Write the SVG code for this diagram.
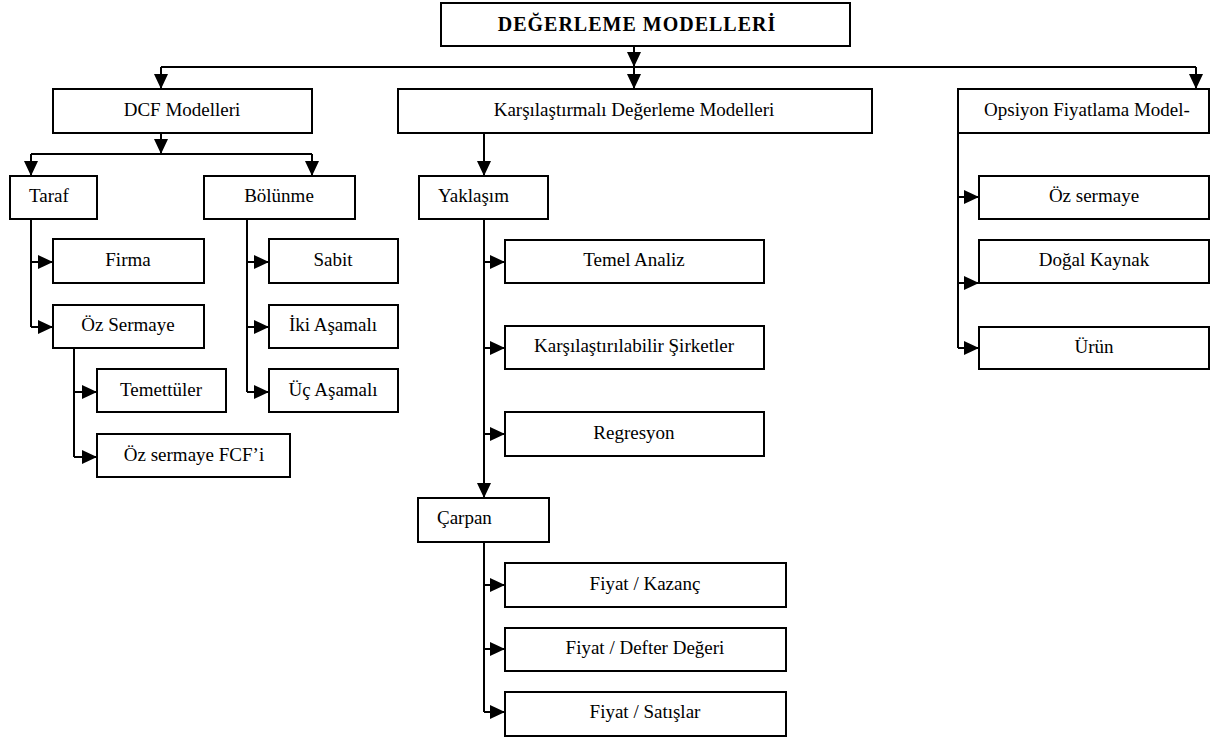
<svg xmlns="http://www.w3.org/2000/svg" width="1218" height="740" viewBox="0 0 1218 740">
<style>
.box{fill:#fff;stroke:#000;stroke-width:2}
.t{font-size:19px;fill:#000;text-anchor:middle}
.l{text-anchor:start}
.title{font-weight:bold;font-size:20px;letter-spacing:1px}
.c{fill:none;stroke:#000;stroke-width:2}
.a{fill:none;stroke:#000;stroke-width:2;marker-end:url(#ah)}
</style>
<defs>
<marker id="ah" markerUnits="userSpaceOnUse" markerWidth="16" markerHeight="15" refX="15" refY="7" orient="auto">
<path d="M0,0 L15,7 L0,14 z" fill="#000"/>
</marker>
</defs>
<rect width="1218" height="740" fill="#fff"/>
<g id="connectors">
<path class="a" d="M634,46 V67"/>
<path class="c" d="M161,67 H1196"/>
<path class="a" d="M161,67 V89"/>
<path class="a" d="M634,67 V89"/>
<path class="a" d="M1196,67 V89"/>
<path class="a" d="M161,133 V154"/>
<path class="c" d="M31,154 H312"/>
<path class="a" d="M31,154 V176"/>
<path class="a" d="M312,154 V176"/>
<path class="c" d="M31,219 V327"/>
<path class="a" d="M31,262 H53"/>
<path class="a" d="M31,327 H53"/>
<path class="c" d="M74,348 V457"/>
<path class="a" d="M74,392 H97"/>
<path class="a" d="M74,457 H97"/>
<path class="c" d="M247,219 V392"/>
<path class="a" d="M247,262 H269"/>
<path class="a" d="M247,327 H269"/>
<path class="a" d="M247,392 H269"/>
<path class="a" d="M484,133 V176"/>
<path class="a" d="M484,219 V498"/>
<path class="a" d="M484,262 H505"/>
<path class="a" d="M484,348 H505"/>
<path class="a" d="M484,434 H505"/>
<path class="c" d="M484,542 V712"/>
<path class="a" d="M484,585 H505"/>
<path class="a" d="M484,649 H505"/>
<path class="a" d="M484,712 H505"/>
<path class="c" d="M958,133 V348"/>
<path class="a" d="M958,197 H979"/>
<path class="a" d="M958,283 H979"/>
<path class="a" d="M958,348 H979"/>
</g>
<g id="nodes" font-family="Liberation Serif, Times New Roman, DejaVu Serif, serif">
<g id="n-root"><rect class="box" x="441" y="3" width="409" height="43"/><text class="t title" x="637" y="31">DEĞERLEME MODELLERİ</text></g>
<g id="n-dcf"><rect class="box" x="53" y="89" width="259" height="44"/><text class="t" x="182" y="116">DCF Modelleri</text></g>
<g id="n-karsi"><rect class="box" x="398" y="89" width="474" height="44"/><text class="t" x="634" y="116">Karşılaştırmalı Değerleme Modelleri</text></g>
<g id="n-opsiyon"><rect class="box" x="958" y="89" width="251" height="44"/><text class="t" x="1087" y="116">Opsiyon Fiyatlama Model-</text></g>
<g id="n-taraf"><rect class="box" x="10" y="176" width="87" height="43"/><text class="t l" x="29" y="202">Taraf</text></g>
<g id="n-bolunme"><rect class="box" x="204" y="176" width="151" height="43"/><text class="t" x="279" y="202">Bölünme</text></g>
<g id="n-firma"><rect class="box" x="53" y="239" width="151" height="44"/><text class="t" x="128" y="266">Firma</text></g>
<g id="n-ozsermaye"><rect class="box" x="53" y="305" width="151" height="43"/><text class="t" x="128" y="331">Öz Sermaye</text></g>
<g id="n-temettu"><rect class="box" x="97" y="369" width="129" height="43"/><text class="t" x="161" y="396">Temettüler</text></g>
<g id="n-ozfcf"><rect class="box" x="97" y="434" width="193" height="43"/><text class="t" x="194" y="461">Öz sermaye FCF’i</text></g>
<g id="n-sabit"><rect class="box" x="269" y="239" width="129" height="44"/><text class="t" x="333" y="266">Sabit</text></g>
<g id="n-iki"><rect class="box" x="269" y="305" width="129" height="43"/><text class="t" x="333" y="331">İki Aşamalı</text></g>
<g id="n-uc"><rect class="box" x="269" y="369" width="129" height="43"/><text class="t" x="333" y="396">Üç Aşamalı</text></g>
<g id="n-yaklasim"><rect class="box" x="419" y="176" width="129" height="43"/><text class="t l" x="438" y="202">Yaklaşım</text></g>
<g id="n-temel"><rect class="box" x="505" y="240" width="259" height="43"/><text class="t" x="634" y="266">Temel Analiz</text></g>
<g id="n-karsisirket"><rect class="box" x="505" y="326" width="259" height="43"/><text class="t" x="634" y="352">Karşılaştırılabilir Şirketler</text></g>
<g id="n-regresyon"><rect class="box" x="505" y="412" width="259" height="44"/><text class="t" x="634" y="439">Regresyon</text></g>
<g id="n-carpan"><rect class="box" x="418" y="498" width="131" height="44"/><text class="t l" x="437" y="524">Çarpan</text></g>
<g id="n-fk"><rect class="box" x="505" y="563" width="281" height="44"/><text class="t" x="645" y="590">Fiyat / Kazanç</text></g>
<g id="n-fdd"><rect class="box" x="505" y="628" width="281" height="43"/><text class="t" x="645" y="654">Fiyat / Defter Değeri</text></g>
<g id="n-fs"><rect class="box" x="505" y="692" width="281" height="44"/><text class="t" x="645" y="718">Fiyat / Satışlar</text></g>
<g id="n-oz2"><rect class="box" x="979" y="176" width="230" height="43"/><text class="t" x="1094" y="202">Öz sermaye</text></g>
<g id="n-dogal"><rect class="box" x="979" y="240" width="230" height="43"/><text class="t" x="1094" y="266">Doğal Kaynak</text></g>
<g id="n-urun"><rect class="box" x="979" y="327" width="230" height="42"/><text class="t" x="1094" y="353">Ürün</text></g>
</g>
</svg>
